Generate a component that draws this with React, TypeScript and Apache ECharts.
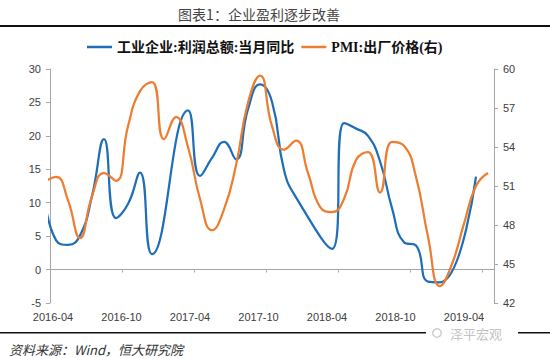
import React, { useEffect, useRef } from 'react';
import * as echarts from 'echarts';

// Monthly observations, 2016-03 .. 2019-04
const months = [
  '2016-03', '2016-04', '2016-05', '2016-06', '2016-07', '2016-08', '2016-09', '2016-10', '2016-11', '2016-12',
  '2017-01', '2017-02', '2017-03', '2017-04', '2017-05', '2017-06', '2017-07', '2017-08', '2017-09', '2017-10', '2017-11', '2017-12',
  '2018-01', '2018-02', '2018-03', '2018-04', '2018-05', '2018-06', '2018-07', '2018-08', '2018-09', '2018-10', '2018-11', '2018-12',
  '2019-01', '2019-02', '2019-03', '2019-04',
];

// 工业企业:利润总额:当月同比 (%), Jan/Feb not published separately
const profitYoY: (number | null)[] = [
  11.1, 4.4, 3.7, 5.1, 11.0, 19.5, 7.7, 9.8, 14.5, 2.3,
  null, null, 23.8, 14.0, 16.7, 19.1, 16.5, 24.0, 27.7, 25.1, 14.9, 10.8,
  null, null, 3.1, 21.9, 21.1, 20.0, 16.2, 9.2, 4.1, 3.6, -1.8, -1.9,
  null, null, 13.9, null,
];

// PMI:出厂价格 (right axis)
const pmiOutputPrice: (number | null)[] = [
  51.3, 51.7, 49.9, 47.0, 50.2, 52.0, 51.4, 55.6, 58.3, 59.0,
  54.6, 56.3, 54.0, 50.0, 47.6, 49.2, 52.6, 57.4, 59.5, 55.6, 53.8, 54.5,
  52.0, 49.4, 49.0, 50.0, 53.0, 53.6, 50.5, 54.4, 54.1, 51.7, 47.1, 43.3,
  45.0, 48.1, 51.0, 52.0,
];

const tickLabels = ['2016-04', '2016-10', '2017-04', '2017-10', '2018-04', '2018-10', '2019-04'];

const seriesNames = ['工业企业:利润总额:当月同比', 'PMI:出厂价格(右)'];

const BLUE = '#1f6fb8';
const ORANGE = '#ed7d31';
const AXIS = '#a6a6a6';
const LABEL = '#404040';

// months since the 2016-04 tick, observations plotted mid-month
const monthPos = (m: string) => {
  const [y, mo] = m.split('-').map(Number);
  return (y - 2016) * 12 + (mo - 4) + 0.5;
};

const toPairs = (vals: (number | null)[]) =>
  months
    .map((m, i) => (vals[i] == null ? null : [monthPos(m), vals[i]]))
    .filter((p) => p !== null);

export default function App() {
  const ref = useRef<HTMLDivElement>(null);

  useEffect(() => {
    if (!ref.current) return;
    const chart = echarts.init(ref.current, null, { renderer: 'svg' });
    const axisLabelStyle = { color: LABEL, fontSize: 11, fontFamily: "'Liberation Sans', Arial, sans-serif" };
    chart.setOption({
      animation: false,
      backgroundColor: '#ffffff',
      grid: [
        { left: 50, right: 56, top: 69, bottom: 55 },
        { left: 53, right: 86, top: 69, bottom: 55 },
      ],
      legend: {
        data: seriesNames,
        left: 82,
        top: 35,
        icon: 'rect',
        itemWidth: 25,
        itemHeight: 2.5,
        itemGap: 7,
        textStyle: {
          fontSize: 14,
          fontWeight: 'bold',
          color: '#111',
          fontFamily: "'Liberation Serif', 'Noto Sans CJK SC', serif",
        },
      },
      xAxis: [
        {
          type: 'value',
          gridIndex: 0,
          min: 0,
          max: 37,
          interval: 6,
          axisLine: { show: true, onZero: true, lineStyle: { color: AXIS, width: 1 } },
          axisTick: { show: true, length: 3, lineStyle: { color: AXIS } },
          axisLabel: { show: false },
          splitLine: { show: false },
        },
        {
          type: 'category',
          gridIndex: 1,
          data: tickLabels,
          boundaryGap: false,
          axisLine: { show: false },
          axisTick: { show: false },
          axisLabel: { ...axisLabelStyle, margin: 8, interval: 0 },
        },
      ],
      yAxis: [
        {
          type: 'value',
          gridIndex: 0,
          min: -5,
          max: 30,
          interval: 5,
          position: 'left',
          axisLine: { show: true, onZero: false, lineStyle: { color: AXIS } },
          axisTick: { show: true, length: 4, lineStyle: { color: AXIS } },
          axisLabel: { ...axisLabelStyle, margin: 9 },
          splitLine: { show: false },
        },
        {
          type: 'value',
          gridIndex: 0,
          min: 42,
          max: 60,
          interval: 3,
          position: 'right',
          axisLine: { show: true, onZero: false, lineStyle: { color: AXIS } },
          axisTick: { show: true, length: 4, lineStyle: { color: AXIS } },
          axisLabel: { ...axisLabelStyle, margin: 9 },
          splitLine: { show: false },
        },
        { type: 'value', gridIndex: 1, show: false },
      ],
      series: [
        {
          name: seriesNames[0],
          type: 'line',
          xAxisIndex: 0,
          yAxisIndex: 0,
          data: toPairs(profitYoY),
          smooth: 0.5,
          showSymbol: false,
          clip: true,
          lineStyle: { color: BLUE, width: 2.25 },
          itemStyle: { color: BLUE },
        },
        {
          name: seriesNames[1],
          type: 'line',
          xAxisIndex: 0,
          yAxisIndex: 1,
          data: toPairs(pmiOutputPrice),
          smooth: 0.5,
          showSymbol: false,
          clip: true,
          lineStyle: { color: ORANGE, width: 2.25 },
          itemStyle: { color: ORANGE },
        },
      ],
      graphic: [
        {
          type: 'text',
          x: 259,
          y: 14,
          style: {
            text: '图表1：企业盈利逐步改善',
            fill: '#444',
            fontSize: 14,
            fontFamily: "'Noto Sans CJK SC', sans-serif",
            textAlign: 'center',
            textVerticalAlign: 'middle',
          },
        },
        { type: 'rect', shape: { x: 0, y: 25, width: 550, height: 2 }, style: { fill: '#111' } },
        { type: 'rect', shape: { x: 0, y: 332, width: 550, height: 1.6 }, style: { fill: '#111' } },
        { type: 'rect', shape: { x: 426, y: 326, width: 92, height: 14 }, style: { fill: '#fff' } },
        { type: 'ring', shape: { cx: 437, cy: 333, r: 5, r0: 3.5 }, style: { fill: '#d0d0d0' } },
        {
          type: 'text',
          x: 450,
          y: 333,
          style: {
            text: '泽平宏观',
            fill: '#c4c4c4',
            fontSize: 13,
            fontFamily: "'Noto Sans CJK SC', sans-serif",
            textVerticalAlign: 'middle',
          },
        },
        {
          type: 'text',
          x: 9,
          y: 349,
          style: {
            text: '资料来源：Wind，恒大研究院',
            fill: '#333',
            fontSize: 13,
            fontStyle: 'italic',
            fontFamily: "'Noto Sans CJK SC', sans-serif",
            textVerticalAlign: 'middle',
          },
        },
      ],
    });
    return () => chart.dispose();
  }, []);

  return (
    <div
      ref={ref}
      style={{ position: 'fixed', left: 0, top: 0, width: 550, height: 358, background: '#fff' }}
    />
  );
}
